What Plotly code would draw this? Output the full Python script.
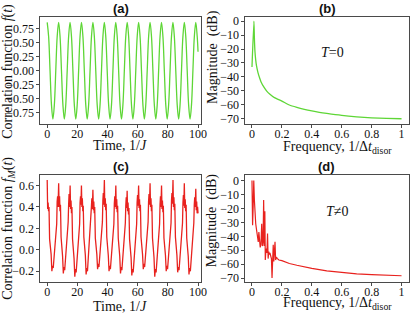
import plotly.graph_objects as go

# ---------------- data ----------------
# (a) correlation function f(t), T = 0
time_a = [0, 0.95, 1.89, 2.84, 3.79, 4.74, 5.68, 6.63,
          7.58, 8.52, 9.47, 10.42, 11.37, 12.31, 13.26, 14.21,
          15.15, 16.10, 17.05, 17.99, 18.94, 19.89, 20.84, 21.78,
          22.73, 23.68, 24.62, 25.57, 26.52, 27.47, 28.41, 29.36,
          30.31, 31.25, 32.20, 33.15, 34.10, 35.04, 35.99, 36.94,
          37.88, 38.83, 39.78, 40.73, 41.67, 42.62, 43.57, 44.51,
          45.46, 46.41, 47.36, 48.30, 49.25, 50.20, 51.14, 52.09,
          53.04, 53.99, 54.93, 55.88, 56.83, 57.77, 58.72, 59.67,
          60.61, 61.56, 62.51, 63.46, 64.40, 65.35, 66.30, 67.24,
          68.19, 69.14, 70.09, 71.03, 71.98, 72.93, 73.87, 74.82,
          75.77, 76.72, 77.66, 78.61, 79.56, 80.50, 81.45, 82.40,
          83.35, 84.29, 85.24, 86.19, 87.13, 88.08, 89.03, 89.97,
          90.92, 91.87, 92.82, 93.76, 94.71, 95.66, 96.60, 97.55,
          98.50, 99.45, 100.0]
corr_a = [0.87, 0.615, 0.0, -0.615, -0.87, -0.615, 0.0, 0.615,
          0.87, 0.615, 0.0, -0.615, -0.87, -0.615, 0.0, 0.615,
          0.87, 0.615, 0.0, -0.615, -0.87, -0.615, 0.0, 0.615,
          0.87, 0.615, 0.0, -0.615, -0.87, -0.615, 0.0, 0.615,
          0.87, 0.615, 0.0, -0.615, -0.87, -0.615, 0.0, 0.615,
          0.87, 0.615, 0.0, -0.615, -0.87, -0.615, 0.0, 0.615,
          0.87, 0.615, 0.0, -0.615, -0.87, -0.615, 0.0, 0.615,
          0.87, 0.615, 0.0, -0.615, -0.87, -0.615, 0.0, 0.615,
          0.87, 0.615, 0.0, -0.615, -0.87, -0.615, 0.0, 0.615,
          0.87, 0.615, 0.0, -0.615, -0.87, -0.615, 0.0, 0.615,
          0.87, 0.615, 0.0, -0.615, -0.87, -0.615, 0.0, 0.615,
          0.87, 0.615, 0.0, -0.615, -0.87, -0.615, 0.0, 0.615,
          0.87, 0.615, 0.0, -0.615, -0.87, -0.615, 0.0, 0.615,
          0.87, 0.615, 0.34]

# (b) spectrum, T = 0
freq_b = [0.0, 0.013, 0.016, 0.02, 0.025, 0.03, 0.04, 0.05, 0.06, 0.08,
          0.1, 0.12, 0.15, 0.2, 0.25, 0.3, 0.35, 0.4, 0.45, 0.5,
          0.6, 0.7, 0.8, 0.9, 1.0]
mag_b = [-33, 0, -12, -22, -28, -32, -37, -40.5, -43.5, -47.5,
         -50.5, -52.5, -55, -57.5, -60.3, -62, -63.4, -64.6, -65.6, -66.4,
         -67.8, -68.8, -69.5, -69.9, -70.2]

# (c) correlation function f_M(t), T != 0
time_c = [0, 0.3, 0.6, 0.9, 1.2, 1.6, 2.1, 2.6, 3.1, 3.5, 4.0, 4.5, 5.0, 5.5, 5.9, 6.3, 6.6, 6.9, 7.2, 7.4,
          7.6, 7.9, 8.2, 8.5, 8.8, 9.2, 9.7, 10.2, 10.7, 11.1, 11.6, 12.1, 12.6, 13.1, 13.5, 13.9, 14.2, 14.5, 14.8, 15.0,
          15.2, 15.5, 15.8, 16.1, 16.4, 16.8, 17.3, 17.8, 18.3, 18.7, 19.2, 19.7, 20.2, 20.7, 21.1, 21.5, 21.8, 22.1, 22.4, 22.6,
          22.7, 23.0, 23.3, 23.6, 23.9, 24.3, 24.8, 25.3, 25.8, 26.2, 26.7, 27.2, 27.7, 28.2, 28.6, 29.0, 29.3, 29.6, 29.9, 30.1,
          30.3, 30.6, 30.9, 31.2, 31.5, 31.9, 32.4, 32.9, 33.4, 33.8, 34.3, 34.8, 35.3, 35.8, 36.2, 36.6, 36.9, 37.2, 37.5, 37.7,
          37.9, 38.2, 38.5, 38.8, 39.1, 39.5, 40.0, 40.5, 41.0, 41.4, 41.9, 42.4, 42.9, 43.4, 43.8, 44.2, 44.5, 44.8, 45.1, 45.3,
          45.5, 45.8, 46.1, 46.4, 46.7, 47.1, 47.6, 48.1, 48.6, 49.0, 49.5, 50.0, 50.5, 51.0, 51.4, 51.8, 52.1, 52.4, 52.7, 52.9,
          53.0, 53.3, 53.6, 53.9, 54.2, 54.6, 55.1, 55.6, 56.1, 56.5, 57.0, 57.5, 58.0, 58.5, 58.9, 59.3, 59.6, 59.9, 60.2, 60.4,
          60.6, 60.9, 61.2, 61.5, 61.8, 62.2, 62.7, 63.2, 63.7, 64.1, 64.6, 65.1, 65.6, 66.1, 66.5, 66.9, 67.2, 67.5, 67.8, 68.0,
          68.2, 68.5, 68.8, 69.1, 69.4, 69.8, 70.3, 70.8, 71.3, 71.7, 72.2, 72.7, 73.2, 73.7, 74.1, 74.5, 74.8, 75.1, 75.4, 75.6,
          75.8, 76.1, 76.4, 76.7, 77.0, 77.4, 77.9, 78.4, 78.9, 79.3, 79.8, 80.3, 80.8, 81.3, 81.7, 82.1, 82.4, 82.7, 83.0, 83.2,
          83.4, 83.7, 84.0, 84.3, 84.6, 85.0, 85.5, 86.0, 86.5, 86.9, 87.4, 87.9, 88.4, 88.9, 89.3, 89.7, 90.0, 90.3, 90.6, 90.8,
          90.9, 91.2, 91.5, 91.8, 92.1, 92.5, 93.0, 93.5, 94.0, 94.4, 94.9, 95.4, 95.9, 96.4, 96.8, 97.2, 97.5, 97.8, 98.1, 98.3,
          98.5, 98.8, 99.1, 99.4, 99.7, 100.0]
corr_c = [0.65, 0.38, 0.44, 0.36, 0.40, 0.10, 0.05, -0.04, -0.20, -0.15, -0.17, -0.09, 0.02, 0.13, 0.20, 0.24, 0.45, 0.50, 0.40, 0.48,
          0.62, 0.40, 0.50, 0.36, 0.42, 0.12, 0.04, -0.06, -0.22, -0.16, -0.19, -0.10, 0.03, 0.15, 0.20, 0.26, 0.42, 0.52, 0.40, 0.50,
          0.60, 0.38, 0.46, 0.34, 0.40, 0.10, 0.03, -0.08, -0.25, -0.18, -0.21, -0.11, 0.01, 0.12, 0.19, 0.24, 0.44, 0.50, 0.42, 0.52,
          0.60, 0.40, 0.48, 0.36, 0.41, 0.12, 0.05, -0.05, -0.23, -0.17, -0.20, -0.10, 0.02, 0.14, 0.21, 0.25, 0.40, 0.48, 0.38, 0.46,
          0.56, 0.37, 0.45, 0.34, 0.40, 0.11, 0.04, -0.04, -0.18, -0.13, -0.16, -0.08, 0.03, 0.15, 0.21, 0.26, 0.46, 0.53, 0.42, 0.55,
          0.65, 0.40, 0.48, 0.37, 0.43, 0.12, 0.05, -0.05, -0.20, -0.15, -0.18, -0.09, 0.02, 0.13, 0.19, 0.24, 0.43, 0.50, 0.40, 0.50,
          0.60, 0.38, 0.47, 0.35, 0.41, 0.11, 0.04, -0.06, -0.22, -0.16, -0.19, -0.10, 0.02, 0.14, 0.20, 0.25, 0.41, 0.49, 0.39, 0.47,
          0.55, 0.36, 0.44, 0.33, 0.39, 0.10, 0.03, -0.07, -0.24, -0.18, -0.21, -0.11, 0.01, 0.13, 0.19, 0.24, 0.44, 0.51, 0.41, 0.52,
          0.60, 0.39, 0.47, 0.36, 0.42, 0.12, 0.05, -0.04, -0.18, -0.13, -0.16, -0.08, 0.03, 0.15, 0.21, 0.26, 0.45, 0.52, 0.42, 0.53,
          0.62, 0.40, 0.48, 0.36, 0.42, 0.11, 0.04, -0.07, -0.25, -0.18, -0.21, -0.11, 0.01, 0.12, 0.19, 0.24, 0.42, 0.50, 0.40, 0.49,
          0.60, 0.38, 0.46, 0.35, 0.41, 0.11, 0.04, -0.05, -0.20, -0.15, -0.18, -0.09, 0.02, 0.14, 0.20, 0.25, 0.46, 0.53, 0.43, 0.55,
          0.65, 0.40, 0.49, 0.37, 0.43, 0.12, 0.05, -0.05, -0.21, -0.16, -0.19, -0.10, 0.02, 0.13, 0.20, 0.25, 0.44, 0.51, 0.41, 0.51,
          0.62, 0.39, 0.47, 0.36, 0.42, 0.11, 0.04, -0.06, -0.23, -0.17, -0.20, -0.10, 0.02, 0.14, 0.20, 0.25, 0.42, 0.49, 0.40, 0.48,
          0.57, 0.37, 0.45, 0.34, 0.40, 0.34]

# (d) spectrum, T != 0
freq_d = [0, 0.004, 0.008, 0.012, 0.016, 0.02, 0.025, 0.03, 0.036, 0.042,
          0.046, 0.05, 0.055, 0.06, 0.065, 0.07, 0.074, 0.078, 0.082, 0.086,
          0.089, 0.093, 0.097, 0.1, 0.104, 0.108, 0.112, 0.116, 0.12, 0.125,
          0.13, 0.134, 0.138, 0.142, 0.146, 0.15, 0.154, 0.158, 0.163, 0.17,
          0.18, 0.2, 0.25, 0.3, 0.35, 0.4, 0.5, 0.6, 0.7, 0.8, 0.9, 1.0]
mag_d = [0, -32, -18, 0, -14, -24, -31, -35, -40, -44,
         -37, -45, -48, -46, -31, -47, -44, -14, -47, -22,
         -57, -50, -49, -52, -38, -56, -51, -53, -52, -54,
         -56, -70, -54, -46, -58, -52, -44, -57, -55, -56,
         -57, -57.5, -59.5, -60.8, -62, -63, -64.8, -66, -66.9, -67.5, -68, -68.3]

panel_titles = ["(a)", "(b)", "(c)", "(d)"]

# ---------------- styling ----------------
W, H = 416, 316
GREEN = "#5ed636"
RED = "#e8221e"
SERIF = "Liberation Serif"
SANS = "Liberation Sans"


def px(x):
    return x / W


def py(y):
    return 1 - y / H


fig = go.Figure()
fig.add_trace(go.Scatter(x=time_a, y=corr_a, mode="lines", line=dict(color=GREEN, width=1.3, shape="spline"),
                         xaxis="x", yaxis="y", showlegend=False))
fig.add_trace(go.Scatter(x=freq_b, y=mag_b, mode="lines", line=dict(color=GREEN, width=1.3, shape="spline", smoothing=0.6),
                         xaxis="x2", yaxis="y2", showlegend=False))
fig.add_trace(go.Scatter(x=time_c, y=corr_c, mode="lines", line=dict(color=RED, width=1.3),
                         xaxis="x3", yaxis="y3", showlegend=False))
fig.add_trace(go.Scatter(x=freq_d, y=mag_d, mode="lines", line=dict(color=RED, width=1.2),
                         xaxis="x4", yaxis="y4", showlegend=False))

base = dict(showline=True, mirror=True, linecolor="#4a4a4a", linewidth=1,
            ticks="outside", ticklen=3, tickcolor="#4a4a4a", showgrid=False, zeroline=False,
            ticklabeloverflow="allow",
            tickfont=dict(family=SERIF, size=12, color="#111"))
xcommon = dict(base, ticklabelstandoff=-4)

dom_left = [px(41), px(204)]
dom_right = [px(249), px(415)]
dom_top = [py(124), py(15)]
dom_bot = [py(284.5), py(175.5)]

fig.update_layout(
    width=W, height=H, margin=dict(l=0, r=0, t=0, b=0),
    paper_bgcolor="white", plot_bgcolor="white",
    xaxis=dict(domain=dom_left, anchor="y", range=[-4.5, 102], dtick=20, **xcommon),
    yaxis=dict(domain=dom_top, anchor="x", range=[-0.96, 0.97], dtick=0.25, tickformat=".2f", **base),
    xaxis2=dict(domain=dom_right, anchor="y2", range=[-0.044, 1.05], dtick=0.2, **xcommon),
    yaxis2=dict(domain=dom_top, anchor="x2", range=[-74, 3.2], dtick=10, **base),
    xaxis3=dict(domain=dom_left, anchor="y3", range=[-4.5, 102], dtick=20, **xcommon),
    yaxis3=dict(domain=dom_bot, anchor="x3", range=[-0.30, 0.70], dtick=0.2, tickformat=".1f", **base),
    xaxis4=dict(domain=dom_right, anchor="y4", range=[-0.044, 1.05], dtick=0.2, **xcommon),
    yaxis4=dict(domain=dom_bot, anchor="x4", range=[-72.8, 4.2], dtick=10, **base),
)

ann = []
title_font = dict(family=SANS, size=13, color="#111")
for txt, (x, y) in zip(panel_titles, [(122.5, 7), (332, 7), (122.5, 167), (331.5, 167)]):
    ann.append(dict(text="<b>%s</b>" % txt, x=px(x), y=py(y), xref="paper", yref="paper",
                    showarrow=False, font=title_font, xanchor="center", yanchor="middle"))

lab_font = dict(family=SERIF, size=14, color="#111")
labels = [
    dict(text="Correlation function <i>f</i>(<i>t</i>)", x=px(8), y=py(70), textangle=-90),
    dict(text="Correlation function <i>f</i><sub><i>M</i></sub>(<i>t</i>)", x=px(8.5), y=py(230), textangle=-90),
    dict(text="Magnitude  (dB)", x=px(216), y=py(56), textangle=-90),
    dict(text="Magnitude  (dB)", x=px(216), y=py(222), textangle=-90),
    dict(text="Time, 1/<i>J</i>", x=px(122), y=py(146)),
    dict(text="Time, 1/<i>J</i>", x=px(122), y=py(309)),
    dict(text="Frequency, 1/Δ<i>t</i><sub>disor</sub>", x=px(342), y=py(147.5)),
    dict(text="Frequency, 1/Δ<i>t</i><sub>disor</sub>", x=px(342), y=py(306.5)),
]
for a in labels:
    a.update(xref="paper", yref="paper", showarrow=False, font=lab_font,
             xanchor="center", yanchor="middle")
ann += labels

ann.append(dict(text="<i>T</i>=0", x=0.54, y=-22.5, xref="x2", yref="y2", showarrow=False,
                font=dict(family=SERIF, size=14, color="#111")))
ann.append(dict(text="<i>T</i>≠0", x=0.57, y=-22, xref="x4", yref="y4", showarrow=False,
                font=dict(family=SERIF, size=14, color="#111")))

fig.update_layout(annotations=ann)
fig.write_html(
    "out.html", config={"displayModeBar": False},
    post_script=("document.body.style.margin='0';"
                 "var gd=document.getElementById('{plot_id}');"
                 "Plotly.react(gd, gd.data, gd.layout);"))
